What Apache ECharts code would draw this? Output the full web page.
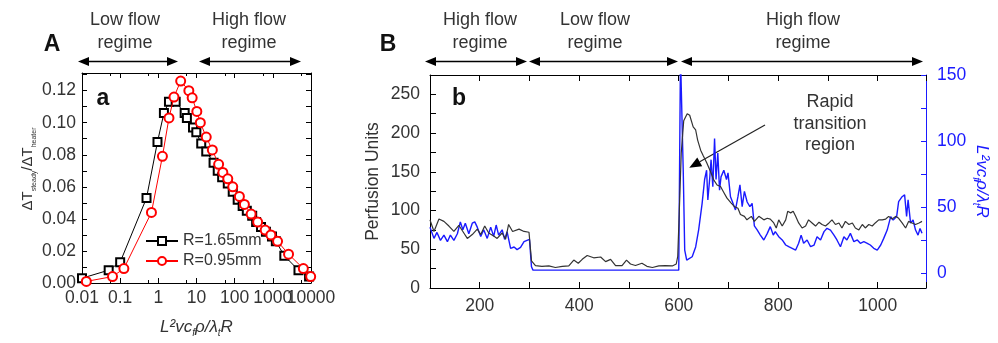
<!DOCTYPE html>
<html><head><meta charset="utf-8">
<script src="https://cdn.jsdelivr.net/npm/echarts@6/dist/echarts.min.js"></script>
<style>html,body{margin:0;padding:0;background:#fff}#c{width:998px;height:343px}</style>
</head><body><div id="c"></div>
<script>
// ---------- Panel A data ----------
const sqX = [0.01, 0.05, 0.1, 0.49, 0.95, 1.4, 1.9, 2.85, 4.9, 5.6, 8.1, 9.9, 13.3, 18, 28, 36, 47, 66, 89, 120, 162, 208, 288, 365, 490, 660, 950, 1200, 2000, 4700, 8900];
const sqY = [0.003, 0.008, 0.013, 0.053, 0.088, 0.106, 0.113, 0.113, 0.106, 0.103, 0.097, 0.094, 0.087, 0.082, 0.075, 0.070, 0.066, 0.062, 0.057, 0.052, 0.048, 0.045, 0.042, 0.038, 0.035, 0.032, 0.029, 0.026, 0.017, 0.008, 0.004];
const ciX = [0.013, 0.063, 0.125, 0.66, 1.28, 1.9, 2.57, 3.85, 6.3, 7.7, 10.2, 12.6, 18, 26, 38, 49, 66, 89, 133, 180, 270, 400, 630, 890, 1330, 2580, 6300, 9800];
const ciY = [0.001, 0.004, 0.009, 0.044, 0.079, 0.103, 0.116, 0.126, 0.120, 0.1155, 0.107, 0.100, 0.091, 0.083, 0.074, 0.069, 0.065, 0.060, 0.054, 0.049, 0.043, 0.038, 0.033, 0.030, 0.026, 0.018, 0.009, 0.004];
const seriesNamesA = ['R=1.65mm', 'R=0.95mm'];
const aYLabels = [0, 0.02, 0.04, 0.06, 0.08, 0.10, 0.12];
const aXLastLabel = 10000;

// ---------- Panel B data ----------
const perfusion = [[100,88],[104,88],[108,73],[118,89],[128,86],[138,80],[148,73],[158,81],[168,71],[175,64],[185,69],[195,76],[202,69],[210,80],[218,71],[228,67],[235,64],[245,71],[252,63],[258,82],[266,73],[279,76],[289,73],[299,72],[304,35],[312,29],[325,28],[339,28.5],[352,26.5],[366,28],[379,28.5],[389,36],[398,32],[406,37],[416,42],[429,39],[443,40],[453,34],[463,37],[473,29],[486,29],[495,36],[503,31],[513,29],[526,32],[536,28],[547,26.5],[560,28.5],[573,29],[587,28.5],[595,31],[598,41],[601,97],[605,174],[610,216],[617,225],[622,223],[629,208],[634,204],[638,191],[644,178],[649,171],[656,162],[664,150],[670,140],[677,133],[684,131],[690,124],[697,116],[705,110],[712,105],[719,103],[724,95],[732,92.5],[737,88],[746,92.5],[752,86],[761,92.5],[764,90],[771,88],[778,90],[784,89],[791,84],[796,77.5],[801,88],[808,80],[815,88],[819,99],[825,97],[830,99],[835,92.5],[841,84],[848,77.5],[855,80],[861,88],[868,84],[875,80],[882,85],[888,82],[895,80],[902,84],[908,88],[915,82],[922,84],[928,77.5],[935,86],[942,82],[949,84],[955,77.5],[962,75],[969,82],[975,77.5],[982,82],[989,80],[995,84],[1002,88],[1009,88],[1016,89],[1022,92.5],[1029,89],[1036,92.5],[1042,90],[1049,84],[1056,77.5],[1062,86],[1069,84],[1076,82],[1083,84],[1089,86]];
const flowParam = [[100,35],[108,26.5],[114,31],[121,25],[128,29],[135,24],[141,29],[148,25],[155,30],[161,39],[166,33],[171,38],[178,30],[185,38],[190,39],[195,35],[202,28],[208,33],[215,26.5],[222,35],[228,28],[233,36.6],[238,29],[245,33],[250,25.7],[255,31.5],[262,19],[269,20],[275,18],[282,19.7],[289,24],[295,25],[300,25.7],[304,5],[307,2.5],[600,2.5],[601.5,2.5],[603.5,165],[606,165],[609,78],[612,17.7],[616,10],[620,8.8],[627,12.6],[634,20],[640,33],[647,53],[652,71],[656,78],[658.5,55.5],[662.5,73],[665,86],[668.5,65.6],[672,102],[675,71],[678.5,91],[682,63],[685,73],[690.6,78],[696,71],[699,76],[704,58],[709,53],[714,48],[719,58],[723,67],[727.5,50.5],[732,62],[737.5,54],[743,50.5],[747.5,53],[752,36],[757.6,33],[764,29],[771,25.3],[778,30.3],[784,35.4],[790,29],[794,31.6],[801,27.8],[808,25.3],[815,21.5],[821,20.2],[828,19],[835,17.7],[841,22.8],[846,29],[851,22.8],[858,25.3],[865,20.2],[872,21.5],[878,27.8],[885,25.3],[892,31.6],[898,34.1],[905,32.8],[912,29],[918,25.3],[925,20.2],[932,27.8],[938,25.3],[945,30.3],[952,24],[959,25.3],[965,22.8],[972,24],[979,22.8],[985,21.5],[992,19],[999,17.7],[1006,21.5],[1012,26.5],[1019,32.8],[1026,43],[1031,40.4],[1038,43],[1042,54.3],[1049,58],[1054,59.4],[1058,43],[1061,55.6],[1066,38],[1071,40.4],[1076,32.8],[1081,29],[1085,34],[1089,30.3]];
const bXLabels = [200, 400, 600, 800, 1000];
const bLeftLabels = [0, 50, 100, 150, 200, 250];
const bRightLabels = [0, 50, 100, 150];
const bRightTicks = [0, 25, 50, 75, 100, 125, 150];

// ---------- rendering ----------
const FONT = '"Liberation Sans", Arial, Helvetica, sans-serif';
const TXT = '#333';
const BLUE = '#1a1aff';
const chart = echarts.init(document.getElementById('c'), null, {renderer: 'canvas'});

const tickStyle = (c) => ({inside: true, length: 5, lineStyle: {color: c, width: 1}});
const lineStyleAx = (c) => ({show: true, onZero: false, lineStyle: {color: c, width: 1}});
const lblStyle = {fontSize: 17.5, color: TXT, fontFamily: FONT};
const logFmt = v => String(+Number(v).toPrecision(4));

const nameRich = (color) => ({
  i: {fontSize: 17, fontStyle: 'italic', color: color, fontFamily: FONT, lineHeight: 22},
  s: {fontSize: 10, fontStyle: 'italic', color: color, fontFamily: FONT, verticalAlign: 'bottom', lineHeight: 22, padding: [9, 0, 0, 0]}
});
const paramName = '{i|L²vc}{s|f}{i|ρ/λ}{s|t}{i|R}';

const graphics = [];
function harrow(x1, x2, y) {
  graphics.push({type: 'line', silent: true, shape: {x1: x1 + 8, y1: y, x2: x2 - 8, y2: y}, style: {stroke: '#000', lineWidth: 1.3}});
  graphics.push({type: 'polygon', silent: true, shape: {points: [[x1, y], [x1 + 11, y - 4.5], [x1 + 11, y + 4.5]]}, style: {fill: '#000'}});
  graphics.push({type: 'polygon', silent: true, shape: {points: [[x2, y], [x2 - 11, y - 4.5], [x2 - 11, y + 4.5]]}, style: {fill: '#000'}});
}
function label(text, x, y, opts) {
  graphics.push({type: 'text', silent: true, x: x, y: y, style: Object.assign({
    text: text, fill: TXT, font: '18px ' + FONT, textAlign: 'center', textVerticalAlign: 'middle', lineHeight: 23
  }, opts || {})});
}
// regime arrows
harrow(78, 178, 61.5); harrow(199, 301, 61.5);
harrow(425, 527, 61.5); harrow(529, 678, 61.5); harrow(681, 923, 61.5);
label('Low flow\nregime', 125, 32);
label('High flow\nregime', 249, 32);
label('High flow\nregime', 480, 32);
label('Low flow\nregime', 595, 32);
label('High flow\nregime', 803, 32);
// panel letters
label('A', 52, 45, {font: 'bold 23px ' + FONT, fill: '#111'});
label('B', 388, 45, {font: 'bold 23px ' + FONT, fill: '#111'});
label('a', 103, 99, {font: 'bold 23px ' + FONT, fill: '#111'});
label('b', 459, 99, {font: 'bold 23px ' + FONT, fill: '#111'});
// annotation
label('Rapid\ntransition\nregion', 830, 124, {lineHeight: 21.5});
(function () {
  const x0 = 765, y0 = 125, tx = 689.3, ty = 167.7;
  const dx = tx - x0, dy = ty - y0, L = Math.hypot(dx, dy), ux = dx / L, uy = dy / L;
  const bx = tx - 12 * ux, by = ty - 12 * uy, nx = -uy, ny = ux;
  graphics.push({type: 'line', silent: true, shape: {x1: x0, y1: y0, x2: bx, y2: by}, style: {stroke: '#222', lineWidth: 1.2}});
  graphics.push({type: 'polygon', silent: true, shape: {points: [[tx, ty], [bx + 5 * nx, by + 5 * ny], [bx - 5 * nx, by - 5 * ny]]}, style: {fill: '#000'}});
})();

const logAxisBase = {gridIndex: 0, type: 'log', logBase: 10, min: 0.01, max: 10000, splitNumber: 6,
  splitLine: {show: false}, minorSplitLine: {show: false}};

const option = {
  animation: false,
  backgroundColor: '#fff',
  textStyle: {fontFamily: FONT},
  grid: [
    {left: 82, top: 73, width: 229, height: 212, containLabel: false},
    {left: 430, top: 75, width: 496, height: 213, containLabel: false}
  ],
  legend: {
    data: seriesNamesA, orient: 'vertical', left: 140, top: 226,
    itemWidth: 32, itemHeight: 10, itemGap: 0,
    textStyle: {fontSize: 16, color: TXT, fontFamily: FONT, lineHeight: 20, padding: [0, 0, 0, 0]}
  },
  xAxis: [
    Object.assign({}, logAxisBase, {position: 'bottom',
     axisLine: lineStyleAx('#000'), axisTick: tickStyle('#000'),
     minorTick: {show: true, splitNumber: 2, length: 3, lineStyle: {color: '#000'}},
     axisLabel: Object.assign({margin: 6, formatter: logFmt, showMinLabel: true, showMaxLabel: false}, lblStyle),
     name: paramName, nameLocation: 'middle', nameGap: 33, nameTextStyle: {rich: nameRich(TXT)}}),
    Object.assign({}, logAxisBase, {position: 'top',
     axisLine: lineStyleAx('#000'), axisTick: tickStyle('#000'),
     minorTick: {show: true, splitNumber: 2, length: 3, lineStyle: {color: '#000'}},
     axisLabel: {show: false}}),
    {gridIndex: 1, type: 'value', min: 100, max: 1097, interval: 100, position: 'bottom',
     axisLine: lineStyleAx('#000'), axisTick: Object.assign(tickStyle('#000'), {length: 6}),
     axisLabel: Object.assign({margin: 9, formatter: v => bXLabels.includes(v) ? String(v) : ''}, lblStyle),
     splitLine: {show: false}},
    {gridIndex: 1, type: 'value', min: 100, max: 1097, interval: 100, position: 'top',
     axisLine: lineStyleAx('#000'), axisTick: Object.assign(tickStyle('#000'), {length: 6}),
     axisLabel: {show: false}, splitLine: {show: false}},
    // overlay axis carrying only the last decade label of panel A
    Object.assign({}, logAxisBase, {position: 'bottom', offset: 0,
     axisLine: {show: false}, axisTick: {show: false}, minorTick: {show: false},
     axisLabel: Object.assign({margin: 6, showMaxLabel: true, showMinLabel: false,
       formatter: v => Math.abs(v - aXLastLabel) < 1 ? String(aXLastLabel) : ''}, lblStyle)})
  ],
  yAxis: [
    {gridIndex: 0, type: 'value', min: 0, max: 0.131, interval: 0.01, position: 'left',
     axisLine: lineStyleAx('#000'), axisTick: tickStyle('#000'),
     axisLabel: Object.assign({margin: 6, formatter: v => aYLabels.some(l => Math.abs(l - v) < 1e-6) ? v.toFixed(2) : ''}, lblStyle),
     splitLine: {show: false},
     name: '{m|ΔT}{s|steady}{m|/ΔT}{s|heater}', nameLocation: 'middle', nameRotate: 90, nameGap: 44,
     nameTextStyle: {padding: [0, 0, 0, 18], rich: {
       m: {fontSize: 15, color: TXT, fontFamily: FONT, lineHeight: 20},
       s: {fontSize: 7, color: TXT, fontFamily: FONT, verticalAlign: 'bottom', lineHeight: 20, padding: [8, 0, 0, 0]}
     }}},
    {gridIndex: 0, type: 'value', min: 0, max: 0.131, interval: 0.01, position: 'right',
     axisLine: lineStyleAx('#000'), axisTick: tickStyle('#000'),
     axisLabel: {show: false}, splitLine: {show: false}},
    {gridIndex: 1, type: 'value', min: 0, max: 275, interval: 25, position: 'left',
     axisLine: lineStyleAx('#000'), axisTick: Object.assign(tickStyle('#000'), {length: 6}),
     axisLabel: Object.assign({margin: 10, formatter: v => bLeftLabels.includes(v) ? String(v) : ''}, lblStyle),
     splitLine: {show: false},
     name: 'Perfusion Units', nameLocation: 'middle', nameRotate: 90, nameGap: 48,
     nameTextStyle: {fontSize: 17.5, color: TXT, fontFamily: FONT}},
    {gridIndex: 1, type: 'value', min: -11, max: 150, position: 'right',
     axisLine: lineStyleAx(BLUE),
     axisTick: {inside: true, length: 5, lineStyle: {color: BLUE}, customValues: bRightTicks},
     axisLabel: Object.assign({margin: 11, customValues: bRightLabels}, lblStyle, {color: BLUE}),
     splitLine: {show: false},
     name: paramName, nameLocation: 'middle', nameRotate: -90, nameGap: 45,
     nameTextStyle: {rich: nameRich(BLUE)}}
  ],
  series: [
    {name: seriesNamesA[0], type: 'line', xAxisIndex: 0, yAxisIndex: 0,
     data: sqX.map((x, i) => [x, sqY[i]]),
     symbol: 'emptyRect', symbolSize: 8, showAllSymbol: true,
     itemStyle: {color: '#000', borderWidth: 1}, lineStyle: {color: '#000', width: 1}, z: 3},
    {name: seriesNamesA[1], type: 'line', xAxisIndex: 0, yAxisIndex: 0,
     data: ciX.map((x, i) => [x, ciY[i]]),
     symbol: 'emptyCircle', symbolSize: 9, showAllSymbol: true,
     itemStyle: {color: '#ff0000', borderWidth: 1}, lineStyle: {color: '#ff0000', width: 1}, z: 4},
    {name: 'param', type: 'line', xAxisIndex: 2, yAxisIndex: 3, data: flowParam,
     showSymbol: false, lineStyle: {color: BLUE, width: 1.4}, clip: true},
    {name: 'perf', type: 'line', xAxisIndex: 2, yAxisIndex: 2, data: perfusion,
     showSymbol: false, lineStyle: {color: '#333', width: 1.2}, clip: true}
  ],
  graphic: graphics
};
chart.setOption(option);
</script>
</body></html>
